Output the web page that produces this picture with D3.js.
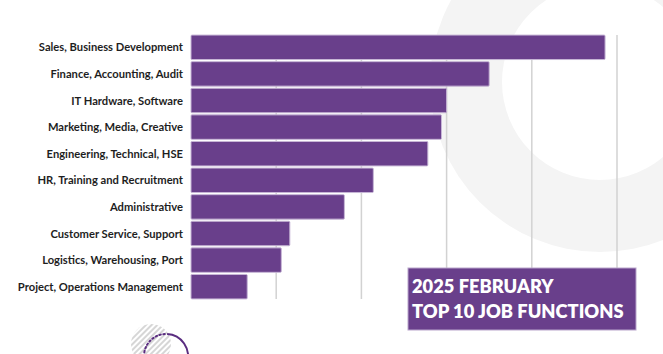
<!DOCTYPE html>
<html>
<head>
<meta charset="utf-8">
<script src="https://d3js.org/d3.v7.min.js"></script>
<style>
  body { margin: 0; background: #fff; }
  svg { display: block; }
</style>
</head>
<body>
<script>
  // job functions, top to bottom
  const categories = [
    "Sales, Business Development",
    "Finance, Accounting, Audit",
    "IT Hardware, Software",
    "Marketing, Media, Creative",
    "Engineering, Technical, HSE",
    "HR, Training and Recruitment",
    "Administrative",
    "Customer Service, Support",
    "Logistics, Warehousing, Port",
    "Project, Operations Management"
  ];
  // share of postings (%)
  const values = [24.3, 17.5, 15.0, 14.7, 13.9, 10.7, 9.0, 5.8, 5.3, 3.3];
  const gridTicks = [5, 10, 15, 20, 25];
  const titleLines = ["2025 FEBRUARY", "TOP 10 JOB FUNCTIONS"];

  const width = 663, height = 354;
  const purple = "#693f8b";

  let svg = d3.select("body").append("svg")
      .attr("width", width)
      .attr("height", height);

  // background ring, top right
  let ring = d3.arc()
      .innerRadius(98)
      .outerRadius(170)
      .startAngle(0)
      .endAngle(2 * Math.PI);
  svg.append("path")
      .attr("d", ring())
      .attr("transform", "translate(600,82)")
      .attr("fill", "#f4f4f4");

  let x = d3.scaleLinear()
      .domain([0, 25])
      .range([191, 617]);

  let y = d3.scaleBand()
      .domain(categories)
      .range([34, 300])
      .paddingInner(0.08)
      .paddingOuter(0.04);

  // vertical grid
  svg.append("g")
      .selectAll("line")
      .data(gridTicks)
      .join("line")
        .attr("x1", d => x(d))
        .attr("x2", d => x(d))
        .attr("y1", y.range()[0] + 1)
        .attr("y2", y.range()[1] - 1)
        .attr("stroke", "#d2d2d2")
        .attr("stroke-width", 1.5);

  svg.append("g")
      .selectAll("rect")
      .data(values)
      .join("rect")
        .attr("x", x(0))
        .attr("y", (d, i) => y(categories[i]))
        .attr("width", d => x(d) - x(0))
        .attr("height", y.bandwidth())
        .attr("rx", 1)
        .attr("fill", purple)
        .attr("stroke", "#c7b6d6")
        .attr("stroke-width", 1);

  svg.append("g")
      .selectAll("text")
      .data(categories)
      .join("text")
        .attr("x", 183)
        .attr("y", d => y(d) + y.bandwidth() / 2 + 4)
        .attr("text-anchor", "end")
        .attr("font-family", "Lato, sans-serif")
        .attr("font-weight", 700)
        .attr("font-size", 11.2)
        .attr("fill", "#1e1e1e")
        .text(d => d);

  // title box
  svg.append("rect")
      .attr("x", 408)
      .attr("y", 268)
      .attr("width", 228)
      .attr("height", 62)
      .attr("fill", purple)
      .attr("stroke", "#b9a5cb")
      .attr("stroke-width", 1);

  svg.append("g")
      .selectAll("text")
      .data(titleLines)
      .join("text")
        .attr("x", 412)
        .attr("y", (d, i) => 293 + i * 24.5)
        .attr("font-family", "Lato, sans-serif")
        .attr("font-weight", 800)
        .attr("font-size", 18.3)
        .attr("fill", "#fff")
        .text(d => d);

  // bottom-left ornament
  let defs = svg.append("defs");
  let pat = defs.append("pattern")
      .attr("id", "hatch")
      .attr("patternUnits", "userSpaceOnUse")
      .attr("width", 4)
      .attr("height", 4)
      .attr("patternTransform", "rotate(45)");
  pat.append("rect")
      .attr("width", 2)
      .attr("height", 4)
      .attr("fill", "#d6d6d6");

  svg.append("circle")
      .attr("cx", 151)
      .attr("cy", 344)
      .attr("r", 20)
      .attr("fill", "url(#hatch)");

  let arcPath = (a0, a1) => d3.arc()({innerRadius: 0, outerRadius: 22, startAngle: a0, endAngle: a1}).split("L")[0];
  svg.append("path")
      .attr("transform", "translate(166,356)")
      .attr("d", arcPath(-Math.PI * 0.62, 0))
      .attr("fill", "none")
      .attr("stroke", "#5a2d80")
      .attr("stroke-width", 2)
      .attr("stroke-dasharray", "1.5 2.5")
      .attr("stroke-linecap", "round");
  svg.append("path")
      .attr("transform", "translate(166,356)")
      .attr("d", arcPath(0.05, Math.PI * 0.6))
      .attr("fill", "none")
      .attr("stroke", "#5a2d80")
      .attr("stroke-width", 2);
</script>
</body>
</html>
